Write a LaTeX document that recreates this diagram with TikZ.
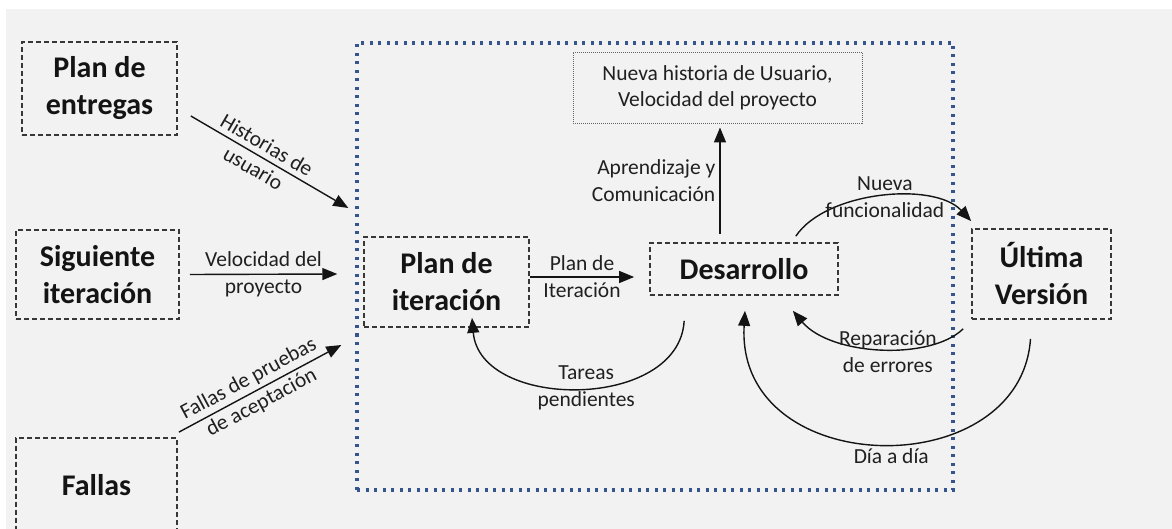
\documentclass[tikz,border=0pt]{standalone}
\usepackage{fontspec}
\setmainfont{Carlito}
\usetikzlibrary{arrows.meta,calc}
\definecolor{fondo}{HTML}{F2F2F2}
\definecolor{azulpunto}{HTML}{34568C}
\definecolor{tinta}{HTML}{141414}
\tikzset{caja/.style 2 args={draw=tinta!85,line width=1.7pt,dash pattern=on 5pt off 3pt,
		minimum width=#1,minimum height=#2,inner sep=0pt,align=center,text=tinta,
		font=\fontsize{30}{37}\selectfont\bfseries},
	marco/.style={draw=azulpunto,line width=3.4pt,dash pattern=on 3pt off 5.5pt,
		minimum width=596pt,minimum height=447pt,inner sep=0pt},
	nota/.style={draw=tinta!65,line width=0.9pt,dash pattern=on 1pt off 1pt,
		minimum width=289pt,minimum height=71pt,inner sep=0pt,align=center,text=tinta!95,
		font=\fontsize{21.5}{26}\selectfont}}

\begin{document}
\begin{tikzpicture}[x=1pt,y=-1pt,>={Triangle[length=15pt,width=12pt]},
	flecha/.style={->,line width=1.4pt,draw=tinta},
	etiq/.style={font=\fontsize{21.5}{27}\selectfont,text=tinta!95,align=center,inner sep=2pt}]
\useasboundingbox (0,0) rectangle (1172,529);
\fill[white] (0,0) rectangle (1172,529);
\fill[fondo] (6,9) rectangle (1172,529);

\node[caja={155pt}{93pt}] (entregas) at (99.5,88.5) {Plan de\\entregas};
\node[caja={163pt}{89pt}] (siguiente) at (97.5,274.5) {Siguiente\\iteración};
\node[caja={161pt}{94pt}] (fallas) at (96.5,485) {Fallas};

\node[marco] (ciclo) at (655,266.5) {};
\node[nota] (nueva) at (717.5,88) {Nueva historia de Usuario,\\Velocidad del proyecto};
\node[caja={165pt}{90pt}] (iteracion) at (446.5,282) {Plan de\\iteración};
\node[caja={188pt}{52pt}] (desarrollo) at (744,269) {Desarrollo};
\node[caja={139pt}{90pt}] (ultima) at (1041.5,274) {Última\\Versión};

\draw[flecha] ($(entregas.east)+(13,27.5)$) -- node[etiq,sloped,pos=0.44] {Historias de\\usuario} ($(ciclo.west)+(-7,-58.5)$);
\draw[flecha] ($(siguiente.east)+(10,0)$) -- node[etiq] {Velocidad del\\proyecto} ($(ciclo.west)+(-18,7.5)$);
\draw[flecha] ($(fallas.north east)+(1,-5)$) -- node[etiq,sloped,pos=0.47] {Fallas de pruebas\\de aceptación} ($(ciclo.west)+(-14,78.5)$);

\draw[flecha] ($(iteracion.east)+(0,-5)$) -- node[etiq] {Plan de\\Iteración} ($(desarrollo.west)+(-15,8)$);
\draw[flecha] ($(desarrollo.north)+(-24,-8)$) -- node[etiq,left,align=right,xshift=-2pt] {Aprendizaje y\\Comunicación} ($(nueva.south)+(2.5,3.5)$);

\draw[flecha] ($(desarrollo.south west)+(35,25)$) .. controls +(-5,90) and +(8,93) .. node[etiq,xshift=7pt] {Tareas\\pendientes} ($(iteracion.south)+(25.5,-10)$);
\draw[flecha] ($(desarrollo.north east)+(-43,-6)$) .. controls +(30,-45) and +(-37,-40) .. node[etiq,xshift=4pt] {Nueva\\funcionalidad} ($(ultima.north west)+(0,-7)$);
\draw[flecha] ($(ultima.south west)+(-8,9)$) .. controls +(-33,32) and +(38,45) .. node[etiq,xshift=8pt,yshift=-3pt] {Reparación\\de errores} ($(desarrollo.south east)+(-46,15)$);
\draw[flecha] ($(ultima.south)+(-11,19)$) .. controls +(-10,147) and +(-10,170) .. node[etiq,below=2pt,xshift=11pt] {Día a día} ($(desarrollo.south)+(1,15)$);
\end{tikzpicture}
\end{document}
